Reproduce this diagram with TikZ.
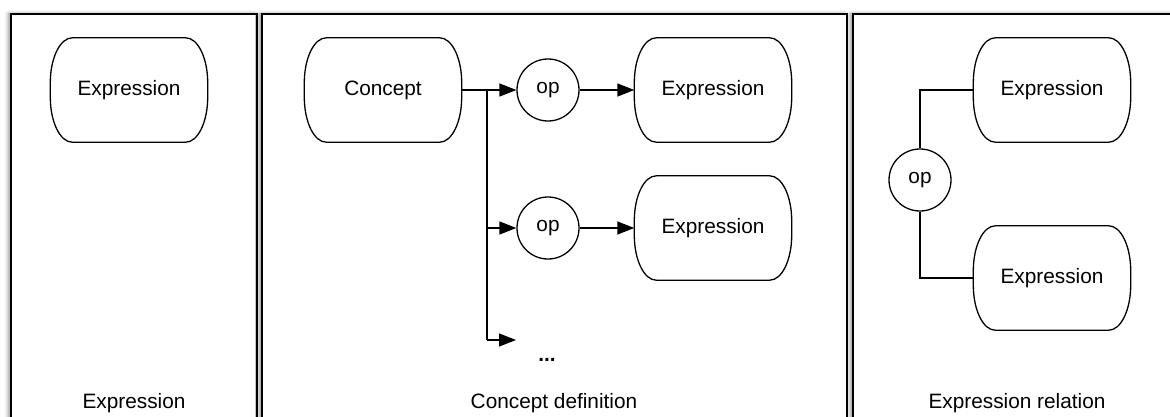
\documentclass[tikz,border=0pt]{standalone}
\usepackage{fontspec}
\setmainfont{Liberation Sans}
\usetikzlibrary{arrows.meta,shadows.blur}
\newcommand\exprframe[1]{%
  \draw[outl] ([xshift=22pt]#1.north west) -- ([xshift=-22pt]#1.north east)
    arc[start angle=90,end angle=0,x radius=22pt,y radius=45pt]
    -- ([yshift=45pt]#1.south east)
    arc[start angle=0,end angle=-90,x radius=22pt,y radius=45pt]
    -- ([xshift=22pt]#1.south west)
    arc[start angle=270,end angle=180,x radius=22pt,y radius=45pt]
    -- ([yshift=-45pt]#1.north west)
    arc[start angle=180,end angle=90,x radius=22pt,y radius=45pt] -- cycle;}
\tikzset{
  outl/.style={line width=1.3pt, line join=round},
  panel/.style={draw=black, line width=1.6pt, fill=white,
    blur shadow={shadow xshift=-2.5pt, shadow yshift=0pt, shadow blur radius=4pt, shadow opacity=45}},
  exprbox/.style={rectangle, minimum width=157pt, minimum height=104pt, inner sep=0pt, draw=none},
  opnode/.style={circle, draw, line width=1.3pt, minimum size=62pt, inner sep=0pt},
  conn/.style={line width=1.4pt},
  arr/.style={conn, -{Triangle[length=17pt,width=13pt]}},
  lbl/.style={anchor=base, inner sep=0pt},
}
\begin{document}
\begin{tikzpicture}[x=1pt,y=1pt,font=\fontsize{20.8}{24}\selectfont]
\useasboundingbox (0,0) rectangle (1170,416);
% panels
\begin{scope}
\clip (0,0) rectangle (1170,416);
\path[panel] (11,-20) rectangle (257,402);
\path[panel] (262,-20) rectangle (847,402);
\path[panel] (853,-20) rectangle (1182,402);
\end{scope}
% panel 1
\node[exprbox] (e1) at (129,326) {Expression};
\exprframe{e1}
\node[lbl] (t1) at (134,8) {Expression};
% panel 2
\node[exprbox] (c) at (383,326) {Concept};
\exprframe{c}
\node[opnode] (op1) at (548,326) {op};
\node[exprbox] (e2) at (713,326) {Expression};
\exprframe{e2}
\node[opnode] (op2) at (548,188) {op};
\node[exprbox] (e3) at (713,188) {Expression};
\exprframe{e3}
\coordinate (j1) at (487,326);
\coordinate (j3) at (487,76);
\coordinate (j3e) at (516,76);
\node[lbl] (dots) at (547,55) {\bfseries ...};
\node[lbl] (t2) at (554,8) {Concept definition};
\draw[arr] (c.east) -- (op1.west);
\draw[arr] (op1.east) -- (e2.west);
\draw[arr] (j1) |- (op2.west);
\draw[arr] (op2.east) -- (e3.west);
\draw[conn] (j1) -- (j3);
\draw[arr] (j3) -- (j3e);
% panel 3
\node[exprbox] (e4) at (1052,326) {Expression};
\exprframe{e4}
\node[exprbox] (e5) at (1052,138) {Expression};
\exprframe{e5}
\node[opnode] (op3) at (920,236) {op};
\draw[conn] (op3.north) |- (e4.west);
\draw[conn] (op3.south) |- (e5.west);
\node[lbl] (t3) at (1017,8) {Expression relation};
\end{tikzpicture}
\end{document}
